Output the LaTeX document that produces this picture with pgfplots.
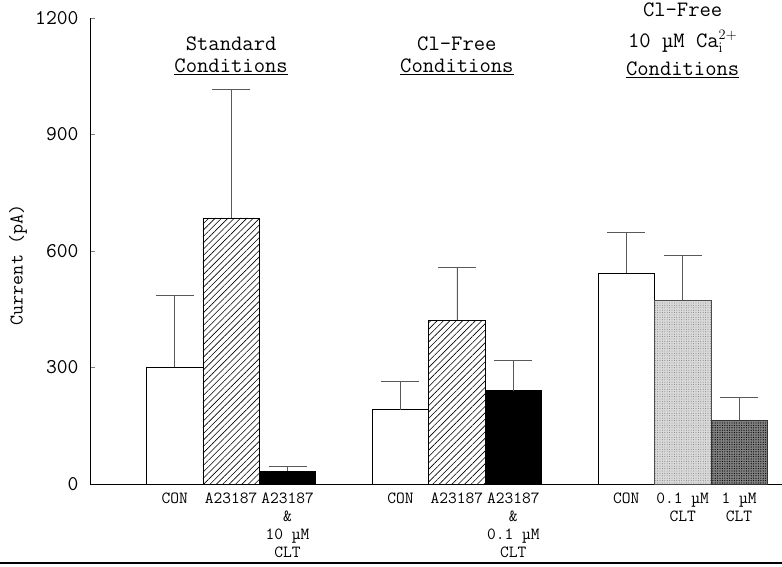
\documentclass[border=0pt]{standalone}
\usepackage{pgfplots}
\pgfplotsset{compat=1.18}
\usetikzlibrary{patterns.meta}

\begin{document}
\begin{tikzpicture}[font=\ttfamily,
  headline/.style={inner sep=0pt, font=\fontsize{22}{22}\selectfont\ttfamily}]
\begin{axis}[
  scale only axis,
  width=692pt, height=466pt,
  xmin=-1.5, xmax=10.76,
  ymin=0, ymax=1200,
  axis x line=bottom, axis y line=left,
  axis line style={-, line width=0.7pt},
  ytick={0,300,600,900,1200},
  tick align=inside,
  major tick length=5pt,
  ytick style={line width=0.6pt},
  yticklabel style={font=\fontsize{21}{22}\selectfont\ttfamily, xshift=-8pt},
  /pgf/number format/assume math mode=true,
  /pgf/number format/1000 sep={},
  xtick={0,1,2,4,5,6,8,9,10},
  xtick style={draw=none},
  xticklabels={
    CON, A23187, {A23187\\\&\\10 µM\\CLT},
    CON, A23187, {A23187\\\&\\0.1 µM\\CLT},
    CON, {0.1 µM\\CLT}, {1 µM\\CLT}},
  xticklabel style={align=center, font=\fontsize{17}{18}\selectfont\ttfamily, yshift=0pt},
  ybar, bar width=1, bar shift=0,
  clip=false,
  error bars/y dir=plus, error bars/y explicit,
  error bars/error bar style={black!65, line width=0.7pt},
  error bars/error mark options={rotate=90, mark size=19pt, black!65, line width=0.7pt},
]
% control bars (open)
\addplot[draw=black, line width=0.7pt, fill=white] coordinates {
  (0,300) +- (0,187)
  (4,191) +- (0,73)
  (8,543) +- (0,106)
};
% ionophore A23187 (hatched)
\addplot[draw=black, line width=0.7pt,
  pattern={Lines[angle=45, distance=4.5pt, line width=0.6pt]}] coordinates {
  (1,685) +- (0,330)
  (5,422) +- (0,137)
};
% A23187 with clotrimazole (solid)
\addplot[draw=black, line width=0.7pt, fill=black] coordinates {
  (2,33) +- (0,12)
  (6,240) +- (0,79)
};
% 0.1 uM clotrimazole (light stipple)
\addplot[draw=black!70, line width=0.6pt, fill=black!15,
  postaction={pattern={Dots[distance=2.4pt, radius=0.45pt]}, pattern color=black!55}] coordinates {
  (9,472) +- (0,118)
};
% 1 uM clotrimazole (dark stipple)
\addplot[draw=black!80, line width=0.6pt, fill=black!50,
  postaction={pattern={Dots[distance=2.4pt, radius=0.6pt]}, pattern color=black}] coordinates {
  (10,165) +- (0,57)
};

% condition headings
\node[align=center, font=\fontsize{22}{22}\selectfont\ttfamily] at (axis cs:1,1102)
  {Standard\\\underline{Conditions}};
\node[align=center, font=\fontsize{22}{22}\selectfont\ttfamily] at (axis cs:5,1102)
  {Cl\textendash Free\\\underline{Conditions}};
\node[headline, anchor=base] at (axis cs:9,1204) {Cl\textendash Free};
\node[headline, anchor=base] at (axis cs:9,1124) {10 µM Ca$^{2+}_{\mathrm{i}}$};
\node[headline, anchor=base] at (axis cs:9,1052) {\underline{Conditions}};
\end{axis}
\node[rotate=90, font=\fontsize{19.5}{20}\selectfont\ttfamily] at (-72pt,219pt) {Current (pA)};
\draw[line width=1.4pt] (-90pt,-79pt) -- (692pt,-79pt);
\pgfresetboundingbox
\useasboundingbox (-90pt,-83pt) rectangle (692pt,484pt);
\end{tikzpicture}
\end{document}
